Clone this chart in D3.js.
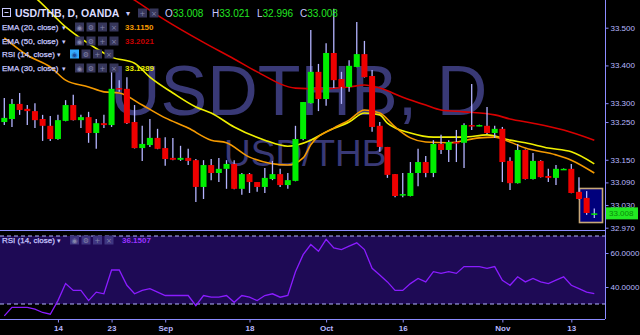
<!DOCTYPE html>
<html>
<head>
<meta charset="utf-8">
<script src="https://cdn.jsdelivr.net/npm/d3@7"></script>
<style>
html, body { margin: 0; padding: 0; background: #000; }
svg { display: block; font-family: "Liberation Sans", Arial, sans-serif; }
</style>
</head>
<body>
<div id="chart"></div>
<script>
// daily candles, bar index 0..77
const opens  = [33.250,33.258,33.298,33.285,33.279,33.258,33.240,33.205,33.253,33.295,
                33.255,33.263,33.221,33.247,33.242,33.340,33.338,33.250,33.181,33.189,
                33.208,33.181,33.155,33.150,33.155,33.149,33.078,33.136,33.115,33.126,
                33.139,33.073,33.112,33.091,33.078,33.099,33.112,33.083,33.094,33.205,
                33.300,33.383,33.311,33.433,33.364,33.343,33.396,33.430,33.372,33.240,
                33.184,33.112,33.057,33.054,33.115,33.144,33.115,33.192,33.176,33.197,
                33.195,33.242,33.240,33.240,33.221,33.232,33.147,33.088,33.176,33.099,
                33.147,33.107,33.102,33.125,33.126,33.065,33.049,33.008];
const highs  = [33.314,33.311,33.327,33.295,33.300,33.269,33.266,33.269,33.308,33.322,
                33.269,33.277,33.258,33.269,33.383,33.361,33.369,33.295,33.240,33.258,
                33.232,33.210,33.208,33.187,33.179,33.152,33.149,33.152,33.155,33.149,
                33.149,33.115,33.115,33.091,33.128,33.147,33.126,33.115,33.240,33.303,
                33.494,33.404,33.459,33.550,33.383,33.414,33.515,33.465,33.388,33.250,
                33.184,33.112,33.115,33.144,33.179,33.160,33.202,33.216,33.202,33.229,
                33.247,33.351,33.243,33.290,33.240,33.237,33.157,33.192,33.177,33.168,
                33.149,33.126,33.136,33.127,33.139,33.104,33.067,33.021];
const lows   = [33.242,33.237,33.269,33.242,33.234,33.200,33.200,33.203,33.252,33.254,
                33.234,33.195,33.179,33.234,33.237,33.330,33.245,33.180,33.147,33.184,
                33.178,33.134,33.149,33.147,33.136,33.038,33.046,33.096,33.091,33.073,
                33.072,33.057,33.062,33.065,33.062,33.096,33.078,33.073,33.093,33.202,
                33.299,33.279,33.293,33.340,33.298,33.330,33.395,33.368,33.224,33.171,
                33.102,33.051,33.051,33.053,33.080,33.104,33.104,33.165,33.144,33.144,
                33.128,33.229,33.239,33.218,33.208,33.091,33.070,33.087,33.098,33.098,
                33.103,33.091,33.083,33.124,33.061,33.045,33.004,32.996];
const closes = [33.261,33.298,33.282,33.279,33.255,33.240,33.205,33.255,33.295,33.255,
                33.263,33.221,33.247,33.242,33.338,33.336,33.247,33.181,33.192,33.208,
                33.179,33.152,33.150,33.155,33.147,33.078,33.136,33.115,33.126,33.139,
                33.073,33.112,33.091,33.078,33.102,33.112,33.083,33.096,33.205,33.303,
                33.383,33.311,33.433,33.361,33.343,33.399,33.430,33.369,33.237,33.184,
                33.110,33.054,33.059,33.115,33.144,33.115,33.192,33.176,33.197,33.195,
                33.242,33.240,33.242,33.221,33.232,33.144,33.088,33.176,33.099,33.147,
                33.104,33.102,33.126,33.126,33.062,33.046,33.009,33.008];

// moving averages at some bars
const ema20Idx = [0,3,6,8,11,13,15,18,21,24,27,29,32,37,39,40,43,45,47,49,51,53,55,58,62,64,66,68,72,74,77];
const ema20Val = [33.473,33.427,33.396,33.361,33.343,33.330,33.327,33.295,33.261,33.234,33.202,33.195,33.157,33.136,33.155,33.190,33.234,33.255,33.282,33.274,33.237,33.208,33.197,33.195,33.208,33.210,33.197,33.181,33.163,33.149,33.115];
const ema30Idx = [0,4,8,12,14,17,19,22,25,27,30,34,37,40,42,45,47,49,50,53,56,60,63,66,68,71,74,77];
const ema30Val = [33.630,33.580,33.502,33.445,33.422,33.406,33.369,33.327,33.290,33.274,33.237,33.202,33.186,33.202,33.224,33.250,33.274,33.269,33.247,33.221,33.210,33.210,33.216,33.202,33.195,33.181,33.171,33.139];
const ema50Idx = [12,17,21,26,30,33,38,41,45,47,49,52,55,57,60,64,66,69,73,77];
const ema50Val = [33.640,33.573,33.520,33.461,33.417,33.383,33.340,33.338,33.343,33.348,33.340,33.316,33.295,33.282,33.277,33.269,33.258,33.247,33.229,33.202];

// RSI (14) per bar
const rsiVal = [23,28,28,28,27,25,24,32,42,38, 38,32,37,36,50,50,41,36,38,39,
                37,35,35,35,35,29,35,34,34,35, 31,35,34,32,35,36,34,35,49,59,
                65,61,68,63,62,64,66,62,51,47, 43,38,38,42,45,43,49,48,49,48,
                52,52,52,51,52,44,41,46,43,45, 43,42,44,46,41,39,37,36.1507];

const priceTicks = [33.5, 33.4, 33.3, 33.25, 33.15, 33.09, 33.03, 32.97];
const rsiTicks = [60, 40];
const dateTickIdx = [7, 14, 21, 32, 42, 52, 65, 74];
const dateTickLabels = ["14", "23", "Sep", "18", "Oct", "16", "Nov", "13"];

const width = 640, height = 335;
const plotRight = 605, mainBottom = 230, rsiBottom = 319;
const axisColor = "#8c8cff", textColor = "#b8b8ff";
const upColor = "#00ee00", downColor = "#ee0000", wickColor = "#b4b4ff";

const svg = d3.select("#chart").append("svg")
    .attr("width", width)
    .attr("height", height);

const defs = svg.append("defs");
defs.append("clipPath").attr("id", "clipMain")
  .append("rect").attr("x", 0).attr("y", 0).attr("width", plotRight).attr("height", mainBottom);
defs.append("clipPath").attr("id", "clipRsi")
  .append("rect").attr("x", 0).attr("y", mainBottom + 1).attr("width", plotRight).attr("height", rsiBottom - mainBottom - 1);

// scales
const x = d3.scaleLinear().domain([0, 77]).range([4.3, 594.3]);
const y = d3.scaleLinear().domain([32.97, 33.5]).range([227.7, 27.7]);
const ry = d3.scaleLinear().domain([40, 60]).range([287, 253]);

const main = svg.append("g").attr("clip-path", "url(#clipMain)");

// watermark
main.append("text")
    .attr("x", 110).attr("y", 115)
    .attr("font-size", 70)
    .attr("fill", "#393976")
    .text("USDTHB, D");
main.append("text")
    .attr("x", 224).attr("y", 166)
    .attr("font-size", 37)
    .attr("fill", "#393976")
    .text("USD/THB");

// moving averages
function drawLine(idx, vals, color, w) {
    const pts = idx.map((d, i) => [d, vals[i]]);
    main.append("path")
        .datum(pts)
        .attr("fill", "none")
        .attr("stroke", color)
        .attr("stroke-width", w)
        .attr("d", d3.line().x(d => x(d[0])).y(d => y(d[1])).curve(d3.curveMonotoneX));
}
drawLine(ema50Idx, ema50Val, "#d80000", 1.6);
drawLine(ema30Idx, ema30Val, "#f0f000", 1.6);
drawLine(ema20Idx, ema20Val, "#f59a00", 1.6);

// highlight box around the last bars
main.append("rect")
    .attr("x", 579.5).attr("y", 188.5)
    .attr("width", 23).attr("height", 34)
    .attr("fill", "#00007c")
    .attr("stroke", "#c8a878")
    .attr("stroke-width", 1.6);

// candles
const bars = d3.range(opens.length);
main.selectAll(".wick").data(bars).enter().append("line")
    .attr("class", "wick")
    .attr("x1", i => x(i)).attr("x2", i => x(i))
    .attr("y1", i => y(highs[i])).attr("y2", i => y(lows[i]))
    .attr("stroke", wickColor)
    .attr("stroke-width", 1.3);
main.selectAll(".body").data(bars).enter().append("rect")
    .attr("class", "body")
    .attr("x", i => x(i) - 3)
    .attr("width", 6)
    .attr("y", i => y(Math.max(opens[i], closes[i])))
    .attr("height", i => Math.max(1.5, Math.abs(y(opens[i]) - y(closes[i]))))
    .attr("fill", i => closes[i] >= opens[i] ? upColor : downColor);

// RSI panel
const rsiG = svg.append("g").attr("clip-path", "url(#clipRsi)");
rsiG.append("rect")
    .attr("x", 0).attr("y", ry(70))
    .attr("width", plotRight).attr("height", ry(30) - ry(70))
    .attr("fill", "#1e0a55");
[70, 30].forEach(v => {
    rsiG.append("line")
        .attr("x1", 0).attr("x2", plotRight)
        .attr("y1", ry(v)).attr("y2", ry(v))
        .attr("stroke", "#b4b4ff")
        .attr("stroke-dasharray", "4,3");
});
rsiG.append("path")
    .datum(rsiVal)
    .attr("fill", "none")
    .attr("stroke", "#8a1cff")
    .attr("stroke-width", 1.3)
    .attr("d", d3.line().x((d, i) => x(i)).y(d => ry(d)));

// frame lines
svg.append("line").attr("x1", plotRight + 0.5).attr("x2", plotRight + 0.5).attr("y1", 0).attr("y2", rsiBottom)
    .attr("stroke", axisColor);
svg.append("line").attr("x1", 0).attr("x2", plotRight).attr("y1", mainBottom + 0.5).attr("y2", mainBottom + 0.5)
    .attr("stroke", axisColor);
svg.append("line").attr("x1", 0).attr("x2", plotRight).attr("y1", rsiBottom + 0.5).attr("y2", rsiBottom + 0.5)
    .attr("stroke", axisColor);

// axes
function styleAxis(g) {
    g.select(".domain").remove();
    g.selectAll("line").attr("stroke", axisColor);
    g.selectAll("text").attr("fill", textColor).attr("font-size", 8).attr("font-family", "Liberation Sans, Arial, sans-serif");
}
svg.append("g")
    .attr("transform", `translate(${plotRight + 0.5},0)`)
    .call(d3.axisRight(y).tickValues(priceTicks).tickSize(3).tickPadding(2).tickFormat(d3.format(".3f")))
    .call(styleAxis);
svg.append("g")
    .attr("transform", `translate(${plotRight + 0.5},0)`)
    .call(d3.axisRight(ry).tickValues(rsiTicks).tickSize(3).tickPadding(2).tickFormat(d3.format(".4f")))
    .call(styleAxis);
svg.append("g")
    .attr("transform", `translate(0,${rsiBottom + 0.5})`)
    .call(d3.axisBottom(x).tickValues(dateTickIdx).tickSize(3).tickPadding(3).tickFormat((d, i) => dateTickLabels[i]))
    .call(styleAxis)
    .selectAll("text").attr("font-weight", "bold");

// last price tag
const last = closes[closes.length - 1];
svg.append("rect")
    .attr("x", plotRight + 1).attr("y", y(last) - 6)
    .attr("width", 32).attr("height", 12)
    .attr("fill", "#22e822");
svg.append("text")
    .attr("x", plotRight + 4).attr("y", y(last) + 3)
    .attr("font-size", 8)
    .attr("fill", "#0a8a0a")
    .text(last.toFixed(3));

// legend
const legend = svg.append("g");
const lav = "#c8c8ff";

function iconBoxes(g, x0, cy, n, first) {
    const syms = ["◉", "⚙", "+", "×"];
    for (let k = 0; k < n; k++) {
        const bx = x0 + k * 11.5;
        g.append("rect")
            .attr("class", "icon")
            .attr("x", bx).attr("y", cy - 4.5)
            .attr("width", 9).attr("height", 9)
            .attr("fill", k === 0 && first ? first : "#36365a");
        g.append("text")
            .attr("x", bx + 4.5).attr("y", cy + 3)
            .attr("text-anchor", "middle")
            .attr("font-size", 7)
            .attr("font-family", "DejaVu Sans, sans-serif")
            .attr("fill", k === 0 && first ? "#1a4a99" : "#8484aa")
            .text(syms[4 - n + k]);
    }
}

// title row
legend.append("rect").attr("x", 2.5).attr("y", 8.5).attr("width", 8).attr("height", 8)
    .attr("fill", "none").attr("stroke", lav);
legend.append("line").attr("x1", 4.5).attr("x2", 8.5).attr("y1", 12.5).attr("y2", 12.5).attr("stroke", lav);
legend.append("text").attr("x", 15).attr("y", 17)
    .attr("font-size", 10.5).attr("font-weight", "bold").attr("fill", "#dcdcff")
    .text("USD/THB, D, OANDA");
legend.append("text").attr("x", 126).attr("y", 16).attr("font-size", 8).attr("fill", lav).text("▾");
iconBoxes(legend, 138, 13, 2);

const ohlcLabels = ["O", "H", "L", "C"];
const ohlcVals = [opens[77], highs[77], lows[77], closes[77]];
const ohlcX = [165, 212, 257, 300];
ohlcLabels.forEach((lbl, k) => {
    const t = legend.append("text").attr("x", ohlcX[k]).attr("y", 17).attr("font-size", 10);
    t.append("tspan").attr("fill", lav).text(lbl);
    t.append("tspan").attr("fill", "#22e622").text(ohlcVals[k].toFixed(3));
});

const studies = [
    {name: "EMA (20, close)", value: "33.1150", color: "#f59a00"},
    {name: "EMA (50, close)", value: "33.2021", color: "#c80000"},
    {name: "RSI (14, close)", value: "", color: ""},
    {name: "EMA (30, close)", value: "33.1389", color: "#e8e800"}
];
const studyY = [27, 41, 54, 68];
studies.forEach((s, k) => {
    const cy = studyY[k];
    legend.append("text").attr("x", 2).attr("y", cy + 3)
        .attr("font-size", 8).attr("fill", lav)
        .attr("stroke", lav).attr("stroke-width", 0.25)
        .text(s.name);
    legend.append("text").attr("x", s.value ? 62 : 57).attr("y", cy + 3)
        .attr("font-size", 7).attr("fill", lav).text("▾");
    if (s.value) {
        iconBoxes(legend, 75, cy, 4);
        legend.append("text").attr("x", 125).attr("y", cy + 3)
            .attr("font-size", 8).attr("font-weight", "bold").attr("fill", s.color)
            .text(s.value);
    } else {
        iconBoxes(legend, 70, cy, 4, "#33aaff");
    }
});

// RSI legend
const rsiLeg = svg.append("g");
rsiLeg.append("text").attr("x", 2).attr("y", 243)
    .attr("font-size", 8).attr("fill", lav)
    .attr("stroke", lav).attr("stroke-width", 0.25)
    .text("RSI (14, close)");
rsiLeg.append("text").attr("x", 57).attr("y", 243)
    .attr("font-size", 7).attr("fill", lav).text("▾");
iconBoxes(rsiLeg, 70, 240, 4);
rsiLeg.selectAll("rect.icon").attr("fill", "#3e3580");
rsiLeg.append("text").attr("x", 122).attr("y", 243)
    .attr("font-size", 8).attr("font-weight", "bold").attr("fill", "#9933ff")
    .text(rsiVal[rsiVal.length - 1].toFixed(4));
</script>
</body>
</html>
